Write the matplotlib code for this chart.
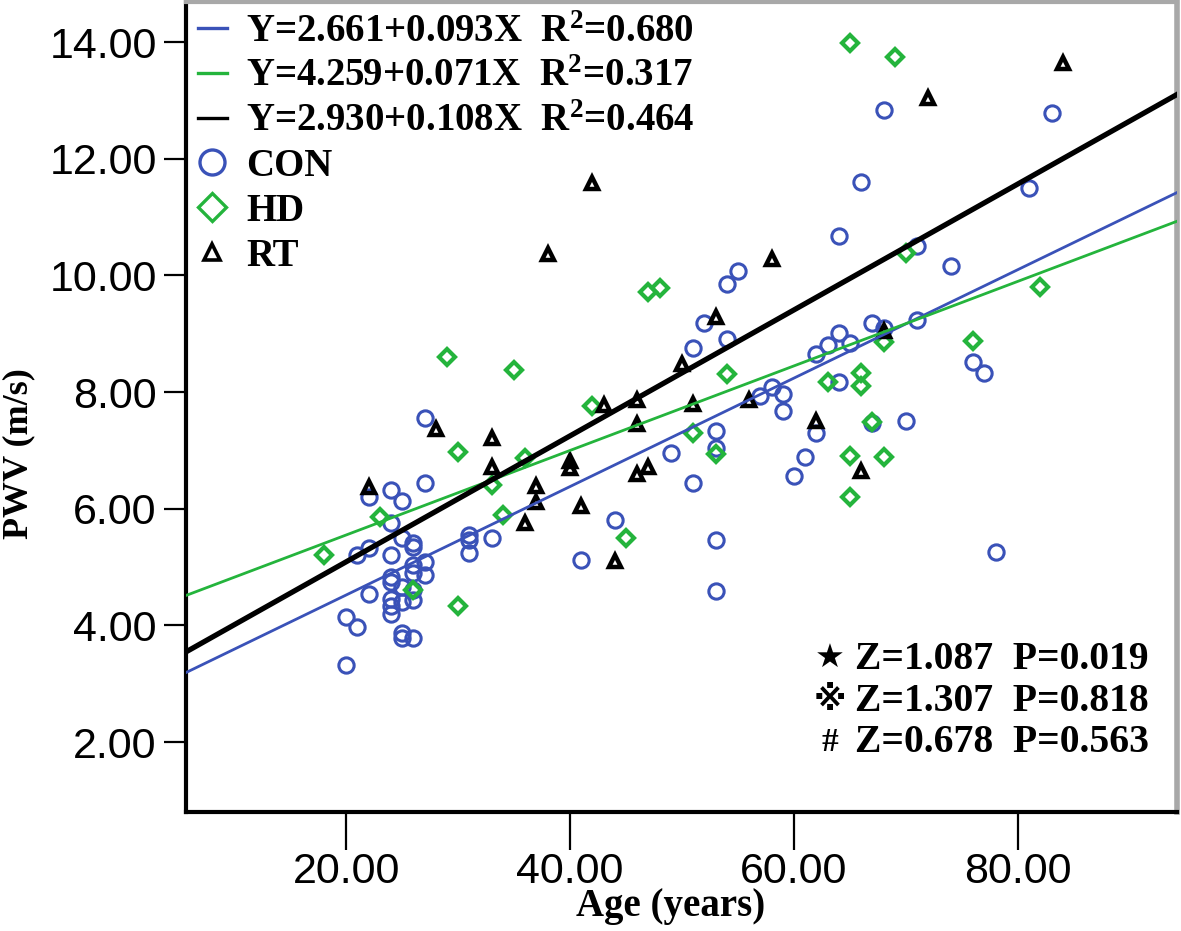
import matplotlib
matplotlib.use('Agg')
import matplotlib.pyplot as plt
import numpy as np
from matplotlib.lines import Line2D

# ---------------- data ----------------
con_age = [20, 20, 21, 21, 22, 22, 22,
           24, 24, 24, 24, 24, 24, 24, 24,
           25, 25, 25, 25, 25, 25,
           26, 26, 26, 26, 26, 26, 26,
           27, 27, 27, 27,
           31, 31, 31, 33,
           41, 44, 49, 51, 51, 52, 53, 53, 53, 53, 54, 54, 55,
           57, 58, 59, 59, 60, 61, 62, 62, 63, 64, 64, 64, 65, 66, 67, 67, 68, 68,
           70, 71, 71, 74, 76, 77, 78, 81, 83]
con_pwv = [4.14, 3.32, 3.97, 5.21, 6.20, 5.33, 4.53,
           6.32, 5.75, 5.20, 4.83, 4.74, 4.45, 4.33, 4.20,
           6.14, 5.50, 4.66, 4.40, 3.87, 3.78,
           5.42, 5.34, 5.03, 4.90, 4.60, 4.43, 3.79,
           7.55, 6.44, 5.08, 4.86,
           5.55, 5.47, 5.24, 5.50,
           5.12, 5.80, 6.96, 8.75, 6.44, 9.18, 7.34, 7.04, 5.46, 4.59, 9.86, 8.91, 10.07,
           7.94, 8.09, 7.97, 7.67, 6.57, 6.89, 7.30, 8.65, 8.80, 10.68, 9.01, 8.17, 8.84, 11.60, 9.18, 7.47, 12.83, 9.10,
           7.50, 10.50, 9.24, 10.16, 8.52, 8.32, 5.25, 11.50, 12.78]

hd_age = [18, 23, 26, 29, 30, 30, 33, 34, 35, 36, 42, 45, 47, 48, 51, 53, 54,
          63, 65, 65, 65, 66, 66, 67, 68, 68, 69, 70, 76, 82]
hd_pwv = [5.20, 5.86, 4.60, 8.60, 6.97, 4.33, 6.41, 5.89, 8.38, 6.87, 7.77, 5.50, 9.71, 9.79, 7.30, 6.94, 8.31,
          8.17, 13.98, 6.91, 6.20, 8.33, 8.10, 7.49, 8.86, 6.89, 13.74, 10.38, 8.87, 9.80]

rt_age = [22, 28, 33, 33, 36, 37, 37, 38, 40, 40, 41, 42, 43, 44, 46, 46, 46, 47,
          50, 51, 53, 56, 58, 62, 66, 68, 72, 84]
rt_pwv = [6.37, 7.37, 7.22, 6.71, 5.76, 6.39, 6.11, 10.37, 6.82, 6.70, 6.04, 11.58, 7.78, 5.10, 7.86, 7.45, 6.60, 6.71,
          8.49, 7.80, 9.28, 7.86, 10.29, 7.50, 6.64, 9.05, 13.05, 13.64]

fit_labels = ['Y=2.661+0.093X  R$^{2}$=0.680',
              'Y=4.259+0.071X  R$^{2}$=0.317',
              'Y=2.930+0.108X  R$^{2}$=0.464']
fit_intercept = [2.661, 4.10, 2.930]
fit_slope = [0.093, 0.0725, 0.108]

group_labels = ['CON', 'HD', 'RT']

test_symbols = ['\u2605', '\u203b', '#']
test_texts = ['Z=1.087  P=0.019', 'Z=1.307  P=0.818', 'Z=0.678  P=0.563']

xticks = [20, 40, 60, 80]
yticks = [2, 4, 6, 8, 10, 12, 14]

# ---------------- style ----------------
plt.rcParams['mathtext.fontset'] = 'custom'
plt.rcParams['mathtext.rm'] = 'Liberation Serif:bold'
plt.rcParams['mathtext.bf'] = 'Liberation Serif:bold'
plt.rcParams['mathtext.it'] = 'Liberation Serif:bold'
plt.rcParams['mathtext.default'] = 'bf'

BLUE = '#3a52b8'
GREEN = '#24b43c'
BLACK = '#000000'

serif_bold = dict(family=['Liberation Serif', 'DejaVu Sans', 'Noto Sans CJK JP'], weight='bold')

fig = plt.figure(figsize=(11.81, 9.31), dpi=100)
ax = fig.add_axes([0.1575, 0.1278, 0.8391, 0.8701])

xlim = (5.7, 94.2)
ylim = (0.8, 14.69)
ax.set_xlim(*xlim)
ax.set_ylim(*ylim)

# scatter points
ax.plot(con_age, con_pwv, linestyle='none', marker='o', markersize=11,
        markerfacecolor='none', markeredgecolor=BLUE, markeredgewidth=2.2, zorder=2)
ax.plot(hd_age, hd_pwv, linestyle='none', marker='D', markersize=8,
        markerfacecolor='none', markeredgecolor=GREEN, markeredgewidth=3.0, zorder=2)
ax.plot(rt_age, rt_pwv, linestyle='none', marker='^', markersize=8.5,
        markerfacecolor='none', markeredgecolor=BLACK, markeredgewidth=3.2, zorder=2)

# regression lines
xs = np.array(xlim)
line_colors = [BLUE, GREEN, BLACK]
line_widths = [2.0, 2.0, 3.8]
for b0, b1, c, lw in zip(fit_intercept, fit_slope, line_colors, line_widths):
    ax.plot(xs, b0 + b1 * xs, color=c, linewidth=lw, zorder=3)

# legend
leg_lines = [Line2D([], [], color=c, linewidth=2.4) for c in line_colors]
leg_con = Line2D([], [], linestyle='none', marker='o', markersize=18, markerfacecolor='none',
                 markeredgecolor=BLUE, markeredgewidth=2.4)
leg_hd = Line2D([], [], linestyle='none', marker='D', markersize=14, markerfacecolor='none',
                markeredgecolor=GREEN, markeredgewidth=2.4)
leg_rt = Line2D([], [], linestyle='none', marker='^', markersize=12, markerfacecolor='none',
                markeredgecolor=BLACK, markeredgewidth=2.6)
ax.legend(leg_lines + [leg_con, leg_hd, leg_rt], fit_labels + group_labels,
          loc='upper left', frameon=False,
          prop=dict(family='Liberation Serif', weight='bold', size=28),
          handlelength=0.75, handletextpad=0.5, labelspacing=0.2,
          borderaxespad=0.1, borderpad=0.2)

# Z / P annotation
sym_y = [0.188, 0.137, 0.086]
for s, t, yy in zip(test_symbols, test_texts, sym_y):
    ax.text(0.650, yy, s, transform=ax.transAxes, fontsize=24, va='center', ha='center',
            **serif_bold)
    ax.text(0.675, yy, t, transform=ax.transAxes, fontsize=28.5, va='center', ha='left',
            **serif_bold)

# axes / ticks
ax.set_xticks(xticks)
ax.set_xticklabels(['%.2f' % v for v in xticks])
ax.set_yticks(yticks)
ax.set_yticklabels(['%.2f' % v for v in yticks])
ax.tick_params(axis='x', direction='out', length=27, width=1.6, pad=2, labelsize=31)
ax.tick_params(axis='y', direction='out', length=16, width=1.6, pad=5, labelsize=31)
for lab in ax.get_xticklabels() + ax.get_yticklabels():
    lab.set_family('Liberation Sans')

ax.spines['left'].set_linewidth(3)
ax.spines['bottom'].set_linewidth(3)
ax.spines['left'].set_color('black')
ax.spines['bottom'].set_color('black')
ax.spines['top'].set_linewidth(3)
ax.spines['right'].set_linewidth(4)
ax.spines['top'].set_color('#a8a8a8')
ax.spines['right'].set_color('#a8a8a8')

ax.set_xlabel('Age (years)', fontsize=28, **serif_bold)
ax.xaxis.set_label_coords(0.489, -0.117)
ax.xaxis.label.set_va('center')
ax.set_ylabel('PWV (m/s)', fontsize=26, **serif_bold)
ax.yaxis.set_label_coords(-0.169, 0.442)
ax.yaxis.label.set_va('center')

fig.savefig('out.png', dpi=100)
